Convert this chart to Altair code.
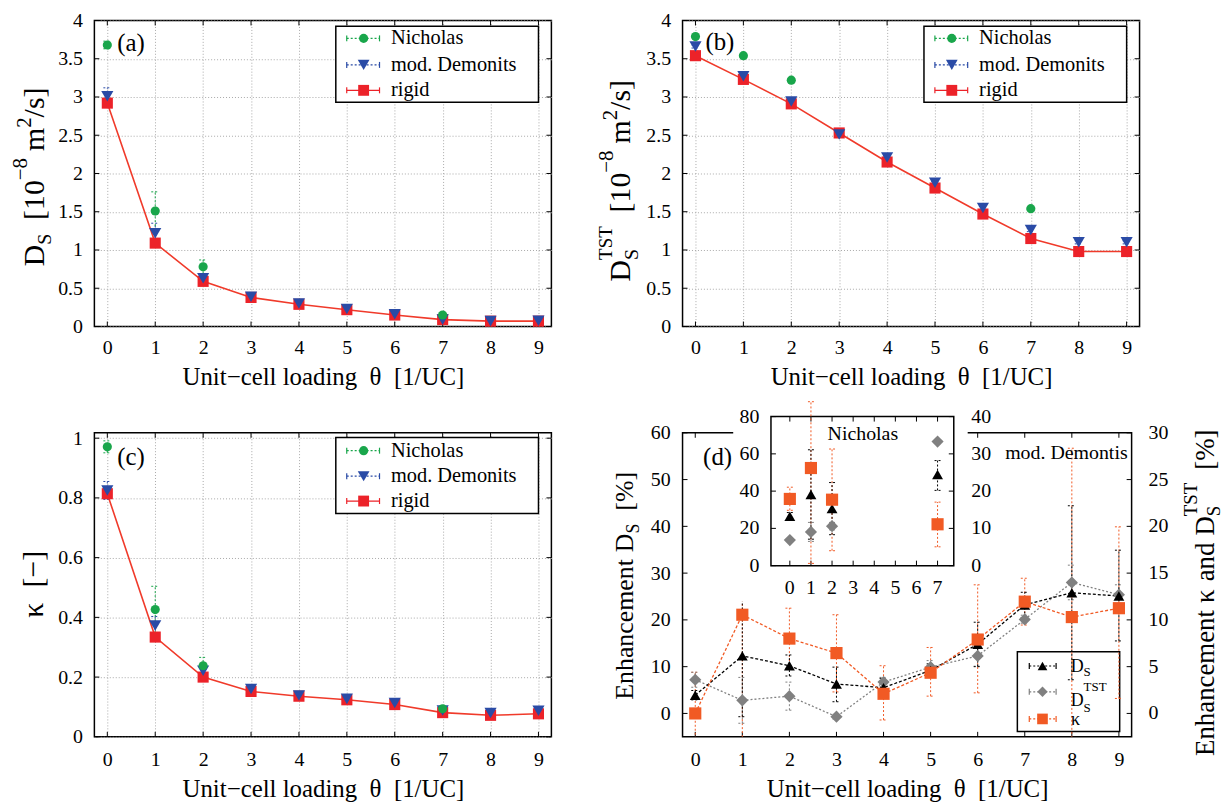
import altair as alt
import pandas as pd

FONT = "Liberation Serif"

# ---------------- data ----------------
theta = list(range(10))
theta_nich = [0, 1, 2, 7]

# (a) self-diffusivity D_S [1e-8 m^2/s]
a_nich = [3.68, 1.51, 0.78, 0.15]
a_nich_err = [0.05, 0.25, 0.09, 0.03]
a_demo = [3.01, 1.22, 0.63, 0.39, 0.30, 0.23, 0.16, 0.09, 0.07, 0.075]
a_demo_err = [0.11, 0.13, 0.04, 0.02, 0.02, 0.02, 0.01, 0.01, 0.01, 0.01]
a_rigid = [2.92, 1.09, 0.59, 0.38, 0.29, 0.22, 0.15, 0.09, 0.07, 0.07]
a_rigid_err = [0.03, 0.02, 0.01, 0.01, 0.01, 0.01, 0.01, 0.01, 0.01, 0.01]

# (b) TST self-diffusivity D_S^TST [1e-8 m^2/s]
b_nich = [3.79, 3.54, 3.22, 1.54]
b_nich_err = [0.01, 0.01, 0.01, 0.01]
b_demo = [3.66, 3.27, 2.94, 2.51, 2.21, 1.88, 1.55, 1.26, 1.10, 1.10]
b_demo_err = [0.02, 0.02, 0.02, 0.02, 0.02, 0.02, 0.02, 0.02, 0.02, 0.02]
b_rigid = [3.54, 3.23, 2.91, 2.53, 2.15, 1.81, 1.47, 1.15, 0.98, 0.98]
b_rigid_err = [0.02, 0.02, 0.02, 0.02, 0.02, 0.02, 0.02, 0.02, 0.02, 0.02]

# (c) transmission coefficient kappa [-]
c_nich = [0.971, 0.426, 0.238, 0.094]
c_nich_err = [0.02, 0.078, 0.028, 0.008]
c_demo = [0.825, 0.373, 0.221, 0.160, 0.138, 0.127, 0.113, 0.088, 0.080, 0.087]
c_demo_err = [0.03, 0.03, 0.012, 0.005, 0.004, 0.004, 0.004, 0.003, 0.003, 0.003]
c_rigid = [0.814, 0.334, 0.200, 0.152, 0.136, 0.124, 0.108, 0.081, 0.072, 0.077]
c_rigid_err = [0.01, 0.008, 0.005, 0.003, 0.003, 0.003, 0.003, 0.003, 0.003, 0.003]

# (d) enhancement of mod. Demontis over rigid [%]
d_ds = [3.9, 12.3, 10.2, 6.3, 5.5, 9.2, 14.8, 23.2, 25.8, 25.1]
d_ds_lo = [2.9, -0.7, 8.0, 2.5, 3.5, 7.7, 10.0, 20.5, 7.2, 15.5]
d_ds_hi = [4.9, 25.3, 12.5, 9.9, 7.5, 10.6, 19.5, 25.9, 44.4, 34.9]
d_tst = [3.6, 1.4, 1.85, -0.35, 3.35, 4.95, 6.15, 10.05, 14.0, 12.7]
d_tst_lo = [2.8, -1.05, 0.35, -0.6, 2.85, 4.25, 5.05, 9.65, 12.15, 11.6]
d_tst_hi = [4.4, 3.85, 3.35, -0.1, 3.85, 5.65, 7.25, 10.5, 15.85, 13.75]
d_kap = [0.0, 10.55, 8.0, 6.45, 2.1, 4.35, 7.9, 11.95, 10.3, 11.25]
d_kap_lo = [-4.4, -2.95, 4.75, 2.3, -0.7, 1.85, 2.2, 9.45, -7.7, 1.6]
d_kap_hi = [4.4, 24.05, 11.25, 10.55, 5.1, 7.05, 13.75, 14.45, 28.35, 19.95]

# (d) inset: enhancement of Nicholas over rigid [%]
i_ds = [26.5, 38.2, 30.6, 48.9]
i_ds_lo = [24.5, 14.2, 16.6, 40.4]
i_ds_hi = [28.5, 62.2, 44.6, 56.4]
i_tst = [6.85, 9.05, 10.6, 33.3]
i_tst_lo = [6.3, 6.5, 9.6, 32.8]
i_tst_hi = [7.4, 11.6, 11.6, 33.8]
i_kap = [17.9, 26.2, 17.7, 11.1]
i_kap_lo = [14.85, 0.6, 4.0, 5.05]
i_kap_hi = [21.05, 44.0, 31.3, 17.05]

# ---------------- styling ----------------
GREEN = "#19a64b"
BLUE = "#2a4ba6"
RED = "#ec2229"
GRAY = "#808080"
ORANGE = "#f15a24"
GRIDC = "#a8a8a8"
XDOM = [-0.27, 9.27]
TICK = 5
W_ABC = 460
XTITLE = "Unit\u2212cell loading\u00a0 \u03b8\u00a0 [1/UC]"
NUM = ".2~f"
ONE = pd.DataFrame({"k": [0]})

# Times / Liberation Serif advance widths (em)
ADV = {" ": .25, "(": .333, ")": .333, "[": .333, "]": .333,
       "/": .278, "%": .833, "\u2212": .564, ".": .25, "A": .722, "C": .667,
       "D": .722, "E": .611, "S": .556, "T": .611, "U": .722, "N": .722,
       "a": .444, "c": .444, "d": .5, "e": .444, "g": .5, "h": .5, "i": .278,
       "l": .278, "m": .778, "n": .5, "o": .5, "s": .389, "t": .278, "u": .5,
       "\u03ba": .55, "\u03b8": .5}


def tw(s, size):
    return sum(ADV.get(ch, 0.5) for ch in s) * size


def piece_adv(p):
    if p[0] is None:
        return p[1]
    text, size, dy, adv = p
    return tw(text, size) if adv else 0


def rich(pieces, x, y, angle=0):
    """Text built from pieces to get sub/superscripts; (None, px) is a gap."""
    out = []
    cur = 0.0
    for p in pieces:
        if p[0] is not None:
            text, size, dy, adv = p
            kw = dict(text=text, font=FONT, fontSize=size, color="black",
                      align="left", baseline="alphabetic", dx=cur, dy=dy)
            if angle:
                kw["angle"] = angle
            out.append(alt.Chart(ONE).mark_text(**kw).encode(
                x=alt.value(x), y=alt.value(y)))
        cur += piece_adv(p)
    return out


def vtitle(pieces, x, yc):
    total = sum(piece_adv(p) for p in pieces)
    return rich(pieces, x, yc + total / 2, angle=270)


def label(text, x, y, size=25, align="left"):
    return alt.Chart(ONE).mark_text(text=text, font=FONT, fontSize=size, color="black",
                                    align=align, baseline="middle").encode(
        x=alt.value(x), y=alt.value(y))


def xaxis(title, grid, pad, title_y):
    kw = dict(orient="bottom", values=theta, format="d", grid=grid, domain=False,
              ticks=False, tickSize=0, labelPadding=pad, labelAngle=0, labelOverlap=False,
              labelFont=FONT, labelFontSize=20, labelColor="black",
              title=title, titleFont=FONT, titleFontSize=25, titleFontWeight="normal",
              titleColor="black", titleBaseline="alphabetic", titleY=title_y)
    if grid:
        kw.update(gridColor=GRIDC, gridDash=[1, 2], gridWidth=1)
    return alt.Axis(**kw)


def yaxis(values, grid, pad):
    kw = dict(orient="left", values=values, format=NUM, grid=grid, domain=False,
              ticks=False, tickSize=0, labelPadding=pad, labelOverlap=False,
              labelFont=FONT, labelFontSize=20, labelColor="black", title=None)
    if grid:
        kw.update(gridColor=GRIDC, gridDash=[1, 2], gridWidth=1)
    return alt.Axis(**kw)


class Frame:
    """Shared scales and axes of one panel; every layer carries the same axis."""

    def __init__(self, xscale, yscale, xaxis_, yaxis_):
        self.X, self.Y, self.XA, self.YA = xscale, yscale, xaxis_, yaxis_

    def x(self, field):
        return alt.X(field, scale=self.X, axis=self.XA)

    def y(self, field):
        return alt.Y(field, scale=self.Y, axis=self.YA)


def sdf(x, v, lo, hi):
    return pd.DataFrame({"theta": x, "v": v, "lo": lo, "hi": hi})


def sdf_err(x, v, err):
    return sdf(x, v, [a - e for a, e in zip(v, err)], [a + e for a, e in zip(v, err)])


def mapped(df, xa=0.0, xb=1.0, ya=0.0, yb=1.0):
    """Series placed on the panel scales by a linear map (identity by default)."""
    calc = {"px": f"{xa!r} + {xb!r} * datum.theta"}
    for f in ("v", "lo", "hi"):
        if f in df.columns:
            calc["p" + f] = f"{ya!r} + {yb!r} * datum.{f}"
    return alt.Chart(df).transform_calculate(**calc)


def err_layers(base, F, color, dash, clip=False, cap=4):
    kw = dict(color=color, strokeWidth=1, clip=clip)
    if dash:
        kw["strokeDash"] = dash
    bar = base.mark_rule(**kw).encode(x=F.x("px:Q"), y=F.y("plo:Q"), y2="phi:Q")
    caps = [base.mark_rule(xOffset=-cap, x2Offset=cap, **kw).encode(
        x=F.x("px:Q"), x2="px:Q", y=F.y(f"p{c}:Q")) for c in ("lo", "hi")]
    return [bar] + caps


def pts(base, F, color, shape, size):
    return base.mark_point(shape=shape, filled=True, size=size, color=color,
                           opacity=1).encode(x=F.x("px:Q"), y=F.y("pv:Q"))


def line(base, F, color, dash=None, width=1.5, clip=False):
    kw = dict(color=color, strokeWidth=width, clip=clip)
    if dash:
        kw["strokeDash"] = dash
    return base.mark_line(**kw).encode(x=F.x("px:Q"), y=F.y("pv:Q"))


def legend_row(y, color, shape, size, dash, x1, x2, xm, xt=None, text=None, tsize=20.5):
    kw = dict(color=color, strokeWidth=1.2)
    if dash:
        kw["strokeDash"] = dash
    out = [
        alt.Chart(ONE).mark_rule(**kw).encode(x=alt.value(x1), x2=alt.value(x2), y=alt.value(y)),
        alt.Chart(ONE).mark_rule(color=color, strokeWidth=1.2).encode(
            x=alt.value(x1), y=alt.value(y - 3), y2=alt.value(y + 3)),
        alt.Chart(ONE).mark_rule(color=color, strokeWidth=1.2).encode(
            x=alt.value(x2), y=alt.value(y - 3), y2=alt.value(y + 3)),
        alt.Chart(ONE).mark_point(shape=shape, filled=True, size=size, color=color,
                                  opacity=1).encode(x=alt.value(xm), y=alt.value(y)),
    ]
    if text:
        out.append(alt.Chart(ONE).mark_text(text=text, font=FONT, fontSize=tsize, color="black",
                                            align="left", baseline="middle").encode(
            x=alt.value(xt), y=alt.value(y)))
    return out


def tick_base(vals, a=0.0, b=1.0):
    return alt.Chart(pd.DataFrame({"t": vals})).transform_calculate(p=f"{a!r} + {b!r} * datum.t")


def hticks(base, F, y0, y1):
    return base.mark_rule(color="black", strokeWidth=1).encode(
        x=F.x("p:Q"), y=alt.value(y0), y2=alt.value(y1))


def vticks(base, F, x0, x1):
    return base.mark_rule(color="black", strokeWidth=1).encode(
        y=F.y("p:Q"), x=alt.value(x0), x2=alt.value(x1))


def panel_abc(H, ydom, yticks, nich, demo, rigid, tag, tag_y, title, title_x, title_yc,
              box_y, rows, xpad, xtitle_y, anchor=False):
    F = Frame(alt.Scale(domain=XDOM, nice=False, zero=False),
              alt.Scale(domain=ydom, nice=False, zero=False),
              xaxis(XTITLE, True, xpad, xtitle_y), yaxis(yticks, True, 12))
    layers = [
        hticks(tick_base(theta), F, H, H - TICK),
        hticks(tick_base(theta), F, 0, TICK),
        vticks(tick_base(yticks), F, 0, TICK),
        vticks(tick_base(yticks), F, W_ABC, W_ABC - TICK),
    ]
    if anchor:
        # page margin: keeps the plot area at a fixed offset from the page corner
        layers.append(alt.Chart(ONE).mark_rect(opacity=0).encode(
            x=alt.value(-94), x2=alt.value(-93), y=alt.value(-17), y2=alt.value(-16)))
    layers += err_layers(mapped(rigid), F, RED, None)
    layers += err_layers(mapped(demo), F, BLUE, [2, 2])
    layers += err_layers(mapped(nich), F, GREEN, [2, 2])
    layers.append(line(mapped(rigid), F, "#f03a2a", width=1.6))
    layers.append(pts(mapped(rigid), F, RED, "square", 125))
    layers.append(pts(mapped(demo), F, BLUE, "triangle-down", 150))
    layers.append(pts(mapped(nich), F, GREEN, "circle", 85))
    # legend
    layers.append(alt.Chart(ONE).mark_rect(fill="white", stroke="black", strokeWidth=1.5).encode(
        x=alt.value(243), x2=alt.value(447), y=alt.value(box_y[0]), y2=alt.value(box_y[1])))
    layers += legend_row(rows[0], GREEN, "circle", 85, [2, 2], 254, 287, 271, 298.5, "Nicholas")
    layers += legend_row(rows[1], BLUE, "triangle-down", 140, [2, 2], 254, 287, 271, 298.5,
                         "mod. Demonits")
    layers += legend_row(rows[2], RED, "square", 120, None, 254, 287, 271, 298.5, "rigid")
    layers.append(label(tag, 23, tag_y))
    layers += vtitle(title, title_x, title_yc)
    return alt.layer(*layers).properties(width=W_ABC, height=H)


# ---------------- panels (a)-(c) ----------------
yt_ab = [0, 0.5, 1, 1.5, 2, 2.5, 3, 3.5, 4]
yt_c = [0, 0.2, 0.4, 0.6, 0.8, 1]
UNIT = [(None, 14), ("[10", 30, 0, True), ("\u22128", 21, -17, True), (None, 7),
        ("m", 30, 0, True), ("2", 21, -13, True), ("/s]", 30, 0, True)]

pa = panel_abc(
    308, [0, 4], yt_ab,
    sdf_err(theta_nich, a_nich, a_nich_err), sdf_err(theta, a_demo, a_demo_err),
    sdf_err(theta, a_rigid, a_rigid_err), "(a)", 23,
    [("D", 30, 0, True), ("S", 20, 7, True)] + UNIT,
    -50.5, 157.5, (5.7, 82.3), (18, 44.7, 70.3), 11, 58, anchor=True)

pb = panel_abc(
    308, [0, 4], yt_ab,
    sdf_err(theta_nich, b_nich, b_nich_err), sdf_err(theta, b_demo, b_demo_err),
    sdf_err(theta, b_rigid, b_rigid_err), "(b)", 21.3,
    [("D", 30, 0, True), ("S", 20, 8, False), ("TST", 19, -19, True)] + UNIT,
    -52.5, 161.3, (5.7, 82.3), (18, 44.7, 70.3), 11, 58)

pc = panel_abc(
    306, [0, 1.018], yt_c,
    sdf_err(theta_nich, c_nich, c_nich_err), sdf_err(theta, c_demo, c_demo_err),
    sdf_err(theta, c_rigid, c_rigid_err), "(c)", 24.7,
    [("\u03ba", 30, 0, True), (None, 14), ("[\u2212]", 30, 0, True)],
    -52, 152.5, (4.7, 81.3), (18, 43.7, 68.7), 13, 60)

# ---------------- panel (d) ----------------
# Left axis carries D_S enhancement; the right axis (kappa, D_S^TST) is half of it.
WD, HD = 452, 306
YDOM = [-5, 60]
RIGHT = 0.5
dl = [0, 10, 20, 30, 40, 50, 60]
dr = [0, 5, 10, 15, 20, 25, 30]
FD = Frame(alt.Scale(domain=XDOM, nice=False, zero=False),
           alt.Scale(domain=YDOM, nice=False, zero=False),
           xaxis(XTITLE, False, 13, 60), yaxis(dl, False, 12.5))
PXX = WD / (XDOM[1] - XDOM[0])
PXY = HD / (YDOM[1] - YDOM[0])


def px_to_x(p):
    return XDOM[0] + p / PXX


def px_to_y(p):
    return YDOM[1] - p / PXY


# inset frame (pixels inside the panel) and its own axes
IXL, IXR, IYT, IYB = 89, 273, -16.3, 133.7
IX0_PX, IX_STEP = 108, 21.24            # pixel of theta=0 and pixels per loading
IL_MAX, IR_MAX = 80, 40                 # inset left / right axis tops
ixa, ixb = px_to_x(IX0_PX), IX_STEP / PXX
iya = px_to_y(IYB)
iylb = (IYB - IYT) / IL_MAX / PXY
iyrb = (IYB - IYT) / IR_MAX / PXY

dlayers = [
    hticks(tick_base(theta), FD, HD, HD - TICK),
    hticks(tick_base(theta), FD, 0, TICK),
    vticks(tick_base(dl), FD, 0, TICK),
    vticks(tick_base(dr, 0.0, 1 / RIGHT), FD, WD, WD - TICK),
    tick_base(dr, 0.0, 1 / RIGHT).mark_text(
        font=FONT, fontSize=20, color="black", align="left", baseline="middle").encode(
        y=FD.y("p:Q"), x=alt.value(WD + 17), text=alt.Text("t:Q", format="d")),
    # legend frame
    alt.Chart(ONE).mark_rect(fill="white", stroke="black", strokeWidth=1.5).encode(
        x=alt.value(337), x2=alt.value(440), y=alt.value(220.3), y2=alt.value(300.7)),
]

ds_b = mapped(sdf(theta, d_ds, d_ds_lo, d_ds_hi))
tst_b = mapped(sdf(theta, d_tst, d_tst_lo, d_tst_hi), yb=1 / RIGHT)
kap_b = mapped(sdf(theta, d_kap, d_kap_lo, d_kap_hi), yb=1 / RIGHT)
dlayers += err_layers(kap_b, FD, ORANGE, [2, 2], clip=True)
dlayers += err_layers(tst_b, FD, GRAY, [2, 2], clip=True)
dlayers += err_layers(ds_b, FD, "black", [2, 2], clip=True)
dlayers += [
    line(tst_b, FD, GRAY, [2, 2], 1.3),
    line(ds_b, FD, "black", [3, 2], 1.3),
    line(kap_b, FD, ORANGE, [3, 2], 1.3),
    pts(tst_b, FD, GRAY, "diamond", 150),
    pts(ds_b, FD, "black", "triangle-up", 120),
    pts(kap_b, FD, ORANGE, "square", 150),
    # white backing of the inset
    alt.Chart(ONE).mark_rect(fill="white").encode(
        x=alt.value(51), x2=alt.value(287), y=alt.value(-32), y2=alt.value(170)),
    # inset frame
    alt.Chart(ONE).mark_rect(fillOpacity=0, stroke="black", strokeWidth=1.5).encode(
        x=alt.value(IXL), x2=alt.value(IXR), y=alt.value(IYT), y2=alt.value(IYB)),
]

# inset ticks and tick labels
ix_vals = list(range(8))
il_vals = [0, 20, 40, 60, 80]
ir_vals = [0, 10, 20, 30, 40]
dlayers += [
    hticks(tick_base(ix_vals, ixa, ixb), FD, IYB, IYB - TICK),
    hticks(tick_base(ix_vals, ixa, ixb), FD, IYT, IYT + TICK),
    vticks(tick_base(il_vals, iya, iylb), FD, IXL, IXL + TICK),
    vticks(tick_base(ir_vals, iya, iyrb), FD, IXR, IXR - TICK),
    tick_base(ix_vals, ixa, ixb).mark_text(
        font=FONT, fontSize=20, color="black", baseline="top").encode(
        x=FD.x("p:Q"), y=alt.value(IYB + 12.5), text=alt.Text("t:Q", format="d")),
    tick_base(il_vals, iya, iylb).mark_text(
        font=FONT, fontSize=20, color="black", align="right", baseline="middle").encode(
        y=FD.y("p:Q"), x=alt.value(IXL - 11.7), text=alt.Text("t:Q", format="d")),
    tick_base(ir_vals, iya, iyrb).mark_text(
        font=FONT, fontSize=20, color="black", align="left", baseline="middle").encode(
        y=FD.y("p:Q"), x=alt.value(IXR + 17.7), text=alt.Text("t:Q", format="d")),
]

ids_b = mapped(sdf(theta_nich, i_ds, i_ds_lo, i_ds_hi), ixa, ixb, iya, iylb)
itst_b = mapped(sdf(theta_nich, i_tst, i_tst_lo, i_tst_hi), ixa, ixb, iya, iyrb)
ikap_b = mapped(sdf(theta_nich, i_kap, i_kap_lo, i_kap_hi), ixa, ixb, iya, iyrb)
dlayers += err_layers(ikap_b, FD, ORANGE, [2, 2], cap=3)
dlayers += err_layers(itst_b, FD, GRAY, [2, 2], cap=3)
dlayers += err_layers(ids_b, FD, "black", [2, 2], cap=3)
dlayers += [
    pts(itst_b, FD, GRAY, "diamond", 150),
    pts(ids_b, FD, "black", "triangle-up", 120),
    pts(ikap_b, FD, ORANGE, "square", 150),
    label("Nicholas", 181.5, 1.3, size=20, align="center"),
    label("mod. Demontis", 448, 20.7, size=20, align="right"),
    label("(d)", 20.7, 24.7),
]

# legend entries of (d)
dlayers += legend_row(234.7, "black", "triangle-up", 95, [2, 2], 349, 376, 362.3)
dlayers += legend_row(260.7, GRAY, "diamond", 110, [2, 2], 349, 376, 362.3)
dlayers += legend_row(288, ORANGE, "square", 115, [2, 2], 349, 376, 362.3)
dlayers += rich([("D", 18, 0, True), ("S", 13, 4, True)], 390.7, 240.5)
dlayers += rich([("D", 18, 0, True), ("S", 13, 6, False), ("TST", 13, -15, True)], 390.7, 275)
dlayers += rich([("\u03ba", 18, 0, True)], 391, 293.7)

# axis titles of (d)
dlayers += vtitle([("Enhancement", 26, 0, True), (None, 7), ("D", 26, 0, True),
                   ("S", 18, 6, True), (None, 13), ("[%]", 26, 0, True)], -50, 154)
dlayers += vtitle([("Enhancement", 27, 0, True), (None, 7), ("\u03ba", 27, 0, True),
                   (None, 7), ("and", 27, 0, True), (None, 7), ("D", 27, 0, True),
                   ("S", 19, 6, False), ("TST", 19, -17, True), (None, 13),
                   ("[%]", 27, 0, True)], 535, 161)

pd_ = alt.layer(*dlayers).properties(width=WD, height=HD)

chart = alt.concat(
    pa, pb, pc, pd_, columns=2, spacing={"row": 107, "column": 132}, bounds="flush"
).properties(
    padding=0,
).configure(
    background="white"
).configure_view(
    stroke="black", strokeWidth=1.5
)

chart.save("out.html", embed_options={"renderer": "svg", "actions": False})
